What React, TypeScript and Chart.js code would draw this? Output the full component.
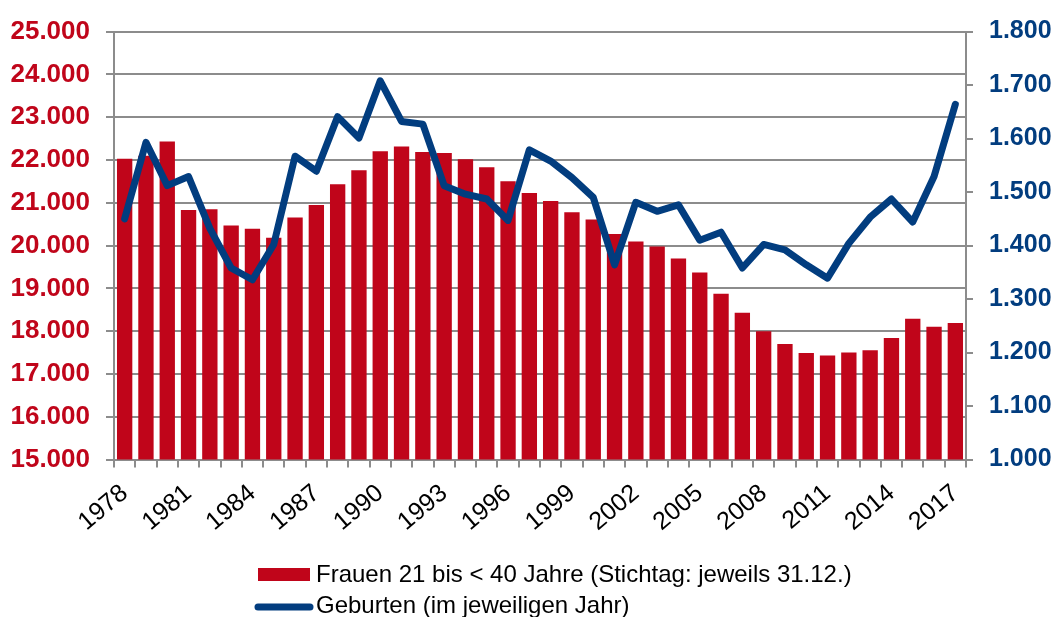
import React, { useEffect, useRef } from "react";
import { Chart, registerables } from "chart.js";

Chart.register(...registerables);

const years: string[] = [
  "1978", "1979", "1980", "1981", "1982", "1983", "1984", "1985", "1986", "1987",
  "1988", "1989", "1990", "1991", "1992", "1993", "1994", "1995", "1996", "1997",
  "1998", "1999", "2000", "2001", "2002", "2003", "2004", "2005", "2006", "2007",
  "2008", "2009", "2010", "2011", "2012", "2013", "2014", "2015", "2016", "2017",
];

const frauen: number[] = [
  22030, 22100, 22430, 20830, 20850, 20470, 20390, 20185, 20655, 20950,
  21430, 21760, 22205, 22315, 22185, 22160, 22015, 21830, 21500, 21230,
  21040, 20780, 20610, 20270, 20095, 19980, 19700, 19370, 18875, 18430,
  17995, 17700, 17490, 17430, 17500, 17555, 17840, 18290, 18100, 18190,
];

const geburten: number[] = [
  1450, 1593, 1512, 1529, 1432, 1358, 1336, 1402, 1567, 1539,
  1641, 1601, 1708, 1632, 1627, 1512, 1496, 1487, 1447, 1579,
  1558, 1527, 1490, 1364, 1481, 1464, 1476, 1410, 1425, 1358,
  1402, 1392, 1364, 1339, 1404, 1453, 1487, 1444, 1529, 1664,
];

const labelFrauen = "Frauen 21 bis < 40 Jahre (Stichtag: jeweils 31.12.)";
const labelGeburten = "Geburten (im jeweiligen Jahr)";

const RED = "#C0051A";
const BLUE = "#023D7F";
const GRID = "#8C8C8C";
const FONT = "'Liberation Sans', Arial, sans-serif";

const fmt = (v: number) => String(v).replace(/\B(?=(\d{3})+(?!\d))/g, ".");

const legendPlugin = {
  id: "customLegend",
  afterDraw(chart: any) {
    const ctx = chart.ctx;
    const ds = chart.data.datasets;
    const bar = ds.find((d: any) => d.type === "bar");
    const line = ds.find((d: any) => d.type === "line");
    ctx.save();
    ctx.font = `24px ${FONT}`;
    ctx.textBaseline = "middle";
    ctx.textAlign = "left";
    ctx.fillStyle = bar.backgroundColor;
    ctx.fillRect(258, 568, 52, 13);
    ctx.fillStyle = "#000";
    ctx.fillText(bar.label, 316, 575);
    ctx.strokeStyle = line.borderColor;
    ctx.lineWidth = 7;
    ctx.lineCap = "round";
    ctx.beginPath();
    ctx.moveTo(258, 607);
    ctx.lineTo(310, 607);
    ctx.stroke();
    ctx.fillText(line.label, 316, 606);
    ctx.restore();
  },
};

export default function App() {
  const ref = useRef<HTMLCanvasElement | null>(null);

  useEffect(() => {
    if (!ref.current) return;
    const chart = new Chart(ref.current, {
      type: "bar",
      data: {
        labels: years,
        datasets: [
          {
            type: "line",
            label: labelGeburten,
            data: geburten,
            yAxisID: "y1",
            borderColor: BLUE,
            backgroundColor: BLUE,
            borderWidth: 7,
            pointRadius: 0,
            tension: 0,
            borderJoinStyle: "round",
            borderCapStyle: "round",
            order: 0,
          } as any,
          {
            type: "bar",
            label: labelFrauen,
            data: frauen,
            yAxisID: "y",
            backgroundColor: RED,
            barPercentage: 0.72,
            categoryPercentage: 1,
            order: 1,
          } as any,
        ],
      },
      options: {
        responsive: false,
        animation: false,
        devicePixelRatio: 1,
        layout: { padding: { top: 27, left: 0, right: 0, bottom: 0 } },
        plugins: {
          legend: { display: false },
          tooltip: { enabled: false },
        },
        scales: {
          x: {
            type: "category",
            offset: true,
            grid: {
              offset: true,
              drawOnChartArea: false,
              drawTicks: true,
              tickLength: 8,
              color: GRID,
              lineWidth: 2,
            },
            border: { display: true, color: GRID, width: 2 },
            ticks: {
              autoSkip: false,
              maxRotation: 40,
              minRotation: 40,
              padding: 11,
              color: "#000",
              font: { family: FONT, size: 25 },
              callback: (_v: any, i: number) => (i % 3 === 0 ? years[i] : ""),
            },
            afterFit: (s: any) => {
              s.height = 617 - 459.5;
            },
          },
          y: {
            position: "left",
            min: 15000,
            max: 25000,
            grid: {
              color: GRID,
              lineWidth: 2,
              drawTicks: true,
              tickLength: 8,
            },
            border: { display: true, color: GRID, width: 2 },
            ticks: {
              stepSize: 1000,
              padding: 16,
              color: RED,
              font: { family: FONT, size: 26, weight: "bold" },
              callback: (v: any) => fmt(Number(v)),
            },
            afterFit: (s: any) => {
              s.width = 114;
            },
          },
          y1: {
            position: "right",
            min: 1000,
            max: 1800,
            grid: {
              drawOnChartArea: false,
              color: GRID,
              lineWidth: 2,
              drawTicks: true,
              tickLength: 7,
            },
            border: { display: true, color: GRID, width: 2 },
            ticks: {
              stepSize: 100,
              padding: 16,
              color: BLUE,
              font: { family: FONT, size: 25, weight: "bold" },
              callback: (v: any) => fmt(Number(v)),
            },
            afterFit: (s: any) => {
              s.width = 1057 - 966;
            },
          },
        },
      },
      plugins: [legendPlugin],
    });
    return () => chart.destroy();
  }, []);

  return (
    <div style={{ position: "fixed", left: 0, top: 0, width: 1057, height: 617, background: "#fff" }}>
      <canvas ref={ref} width={1057} height={617} style={{ display: "block" }} />
    </div>
  );
}
